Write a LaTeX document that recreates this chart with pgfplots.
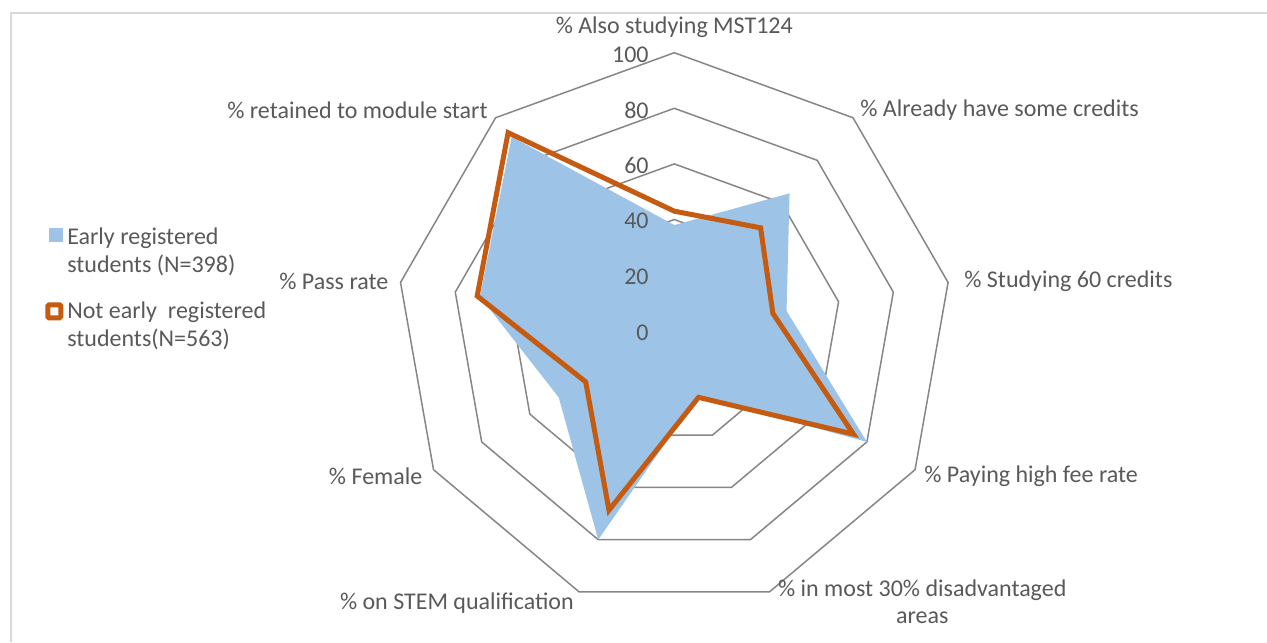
\documentclass[border=0pt]{standalone}
\usepackage{fontspec}
\setmainfont{Carlito}
\usepackage{pgfplots}
\pgfplotsset{compat=1.18}
\definecolor{bluefill}{HTML}{9DC3E6}
\definecolor{orangeline}{HTML}{C55A11}
\definecolor{gridcol}{HTML}{868686}
\definecolor{txt}{HTML}{595959}
\definecolor{bordercol}{HTML}{D9D9D9}
\begin{document}
\begin{tikzpicture}
\begin{axis}[
  name=ax,
  x=1.39pt, y=1.39pt,
  xmin=-242.55, xmax=213.2, ymin=-111.98, ymax=118.96,
  hide axis, clip=false,
  legend cell align=left,
  legend style={draw=none, fill=none, at={(axis cs:-226.4,38.6)}, anchor=north west,
    font=\fontsize{12}{14}\selectfont\color{txt}, cells={align=left},
    row sep=9pt, inner sep=0pt},
]
% grid rings
\addplot[gridcol, line width=0.75pt, data cs=polar, forget plot] coordinates {(90,20) (50,20) (10,20) (-30,20) (-70,20) (-110,20) (-150,20) (170,20) (130,20)} -- cycle;
\addplot[gridcol, line width=0.75pt, data cs=polar, forget plot] coordinates {(90,40) (50,40) (10,40) (-30,40) (-70,40) (-110,40) (-150,40) (170,40) (130,40)} -- cycle;
\addplot[gridcol, line width=0.75pt, data cs=polar, forget plot] coordinates {(90,60) (50,60) (10,60) (-30,60) (-70,60) (-110,60) (-150,60) (170,60) (130,60)} -- cycle;
\addplot[gridcol, line width=0.75pt, data cs=polar, forget plot] coordinates {(90,80) (50,80) (10,80) (-30,80) (-70,80) (-110,80) (-150,80) (170,80) (130,80)} -- cycle;
\addplot[gridcol, line width=0.75pt, data cs=polar, forget plot] coordinates {(90,100) (50,100) (10,100) (-30,100) (-70,100) (-110,100) (-150,100) (170,100) (130,100)} -- cycle;
% Early registered
\addplot[fill=bluefill, draw=none, data cs=polar,
  legend image code/.code={\fill[bluefill] (-0.5pt,5pt) rectangle (6.5pt,12pt);}]
  coordinates {(90,38) (50,64.5) (10,41) (-30,80) (-70,25) (-110,80) (-150,48) (170,71) (130,91)} -- cycle;
\addlegendentry{Early registered\\students (N=398)}
% Not early registered
\addplot[draw=orangeline, line width=2.5pt, data cs=polar,
  legend image code/.code={\draw[orangeline, line width=2.5pt, fill=white, rounded corners=0.6pt] (-1pt,3.75pt) rectangle (5.5pt,10.25pt);}]
  coordinates {(90,43) (50,48.3) (10,36) (-30,74.4) (-70,25.5) (-110,68.7) (-150,36.8) (170,72) (130,93)} -- cycle;
\addlegendentry{Not early\ \ registered\\students(N=563)}
% tick labels
\foreach \r in {0,20,40,60,80,100} {
  \edef\temp{\noexpand\node[anchor=east, inner sep=0pt, font=\noexpand\fontsize{12}{14}\noexpand\selectfont, text=txt] at (axis cs:-9.1,\r-0.6) {\r};}
  \temp
}
% category labels
\begin{scope}[every node/.style={font=\fontsize{12}{13.5}\selectfont, text=txt, inner sep=0pt}]
\node[anchor=center] at (axis cs:0,109.3) {\% Also studying MST124};
\node[anchor=west] at (axis cs:66.8,79.4) {\% Already have some credits};
\node[anchor=west] at (axis cs:104.2,17.9) {\% Studying 60 credits};
\node[anchor=west] at (axis cs:89.8,-52.2) {\% Paying high fee rate};
\node[anchor=center, align=center] at (axis cs:89.2,-97.4) {\% in most 30\% disadvantaged\\areas};
\node[anchor=center] at (axis cs:-78.2,-97.9) {\% on STEM qualification};
\node[anchor=east] at (axis cs:-90.5,-52.2) {\% Female};
\node[anchor=east] at (axis cs:-102.7,17.9) {\% Pass rate};
\node[anchor=east] at (axis cs:-67,79.4) {\% retained to module start};
\end{scope}
% chart border
\draw[bordercol, line width=0.75pt] (axis cs:-238.6,-111.98) -- (axis cs:-238.6,114.3) -- (axis cs:213.2,114.3);
\end{axis}
\pgfresetboundingbox
\path (ax.south west) rectangle (ax.north east);
\end{tikzpicture}
\end{document}
